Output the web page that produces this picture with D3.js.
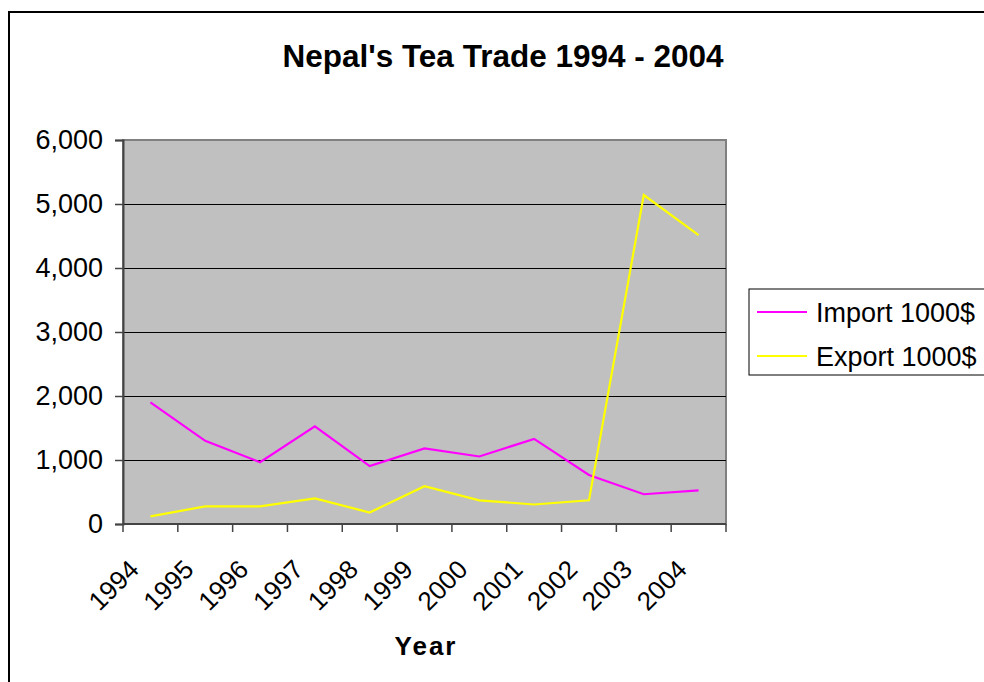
<!DOCTYPE html>
<html>
<head>
<meta charset="utf-8">
<script src="https://cdn.jsdelivr.net/npm/d3@7"></script>
<style>
  body { margin: 0; background: #fff; }
  svg { display: block; font-family: Arial, "Liberation Sans", sans-serif; }
</style>
</head>
<body>
<svg id="chart" width="984" height="682"></svg>
<script>
const years = ["1994", "1995", "1996", "1997", "1998", "1999", "2000", "2001", "2002", "2003", "2004"];
const importVals = [1900, 1300, 965, 1525, 905, 1180, 1055, 1330, 765, 465, 525];
const exportVals = [120, 275, 275, 400, 180, 590, 370, 305, 370, 5140, 4515];
const yTicks = [0, 1000, 2000, 3000, 4000, 5000, 6000];
const seriesNames = ["Import 1000$", "Export 1000$"];
const seriesColors = ["#ff00ff", "#ffff00"];

const svg = d3.select("#chart");

// outer chart frame (runs off the right/bottom of the picture)
svg.append("rect")
  .attr("x", 9).attr("y", 12)
  .attr("width", 1000).attr("height", 700)
  .attr("fill", "#fff")
  .attr("stroke", "#000")
  .attr("stroke-width", 2);

const plot = { left: 123, right: 726, top: 140, bottom: 524 };

const x = d3.scaleBand().domain(years).range([plot.left, plot.right]).padding(0);
const y = d3.scaleLinear().domain([0, 6000]).range([plot.bottom, plot.top]);

// plot area
svg.append("rect")
  .attr("x", plot.left).attr("y", plot.top)
  .attr("width", plot.right - plot.left).attr("height", plot.bottom - plot.top)
  .attr("fill", "#c0c0c0")
  .attr("stroke", "#808080")
  .attr("stroke-width", 2);

// gridlines
svg.append("g")
  .selectAll("line")
  .data(yTicks.filter(d => d > 0 && d < 6000))
  .join("line")
  .attr("x1", plot.left).attr("x2", plot.right)
  .attr("y1", d => y(d)).attr("y2", d => y(d))
  .attr("stroke", "#000")
  .attr("stroke-width", 1)
  .attr("shape-rendering", "crispEdges");

// y axis
const yAxis = svg.append("g")
  .attr("transform", `translate(${plot.left},0)`)
  .call(d3.axisLeft(y).tickValues(yTicks).tickFormat(d3.format(",")).tickSize(8).tickPadding(12));
yAxis.select(".domain").attr("stroke", "#444").attr("stroke-width", 2);
yAxis.selectAll(".tick line").attr("stroke", "#444").attr("stroke-width", 1.5);
yAxis.selectAll(".tick text")
  .attr("font-size", 27)
  .attr("font-family", "Arial, 'Liberation Sans', sans-serif")
  .attr("fill", "#000");

// x axis line + ticks at category boundaries
svg.append("line")
  .attr("x1", plot.left).attr("x2", plot.right)
  .attr("y1", plot.bottom).attr("y2", plot.bottom)
  .attr("stroke", "#444").attr("stroke-width", 2);

const bounds = years.map(d => x(d)).concat([x.range()[1]]);
svg.append("g")
  .selectAll("line")
  .data(bounds)
  .join("line")
  .attr("x1", d => d).attr("x2", d => d)
  .attr("y1", plot.bottom).attr("y2", plot.bottom + 8)
  .attr("stroke", "#444").attr("stroke-width", 1.5);

// rotated year labels
svg.append("g")
  .selectAll("text")
  .data(years)
  .join("text")
  .attr("transform", d => `translate(${x(d) + x.bandwidth() / 2 - 10},${plot.bottom + 47}) rotate(-45)`)
  .attr("text-anchor", "end")
  .attr("font-size", 26)
  .text(d => d);

// lines
const cx = d => x(d) + x.bandwidth() / 2;
const line = d3.line().x((d, i) => cx(years[i])).y(d => y(d));

[importVals, exportVals].forEach((vals, i) => {
  svg.append("path")
    .datum(vals)
    .attr("d", line)
    .attr("fill", "none")
    .attr("stroke", seriesColors[i])
    .attr("stroke-width", 2.2)
    .attr("stroke-linejoin", "miter");
});

// title
svg.append("text")
  .attr("x", 503).attr("y", 67)
  .attr("text-anchor", "middle")
  .attr("font-size", 31.5)
  .attr("font-weight", "bold")
  .text("Nepal's Tea Trade 1994 - 2004");

// axis title
svg.append("text")
  .attr("x", 426).attr("y", 655)
  .attr("text-anchor", "middle")
  .attr("font-size", 26)
  .attr("font-weight", "bold")
  .attr("letter-spacing", 2)
  .text("Year");

// legend
const legend = svg.append("g");
legend.append("rect")
  .attr("x", 749).attr("y", 289)
  .attr("width", 300).attr("height", 86)
  .attr("fill", "#fff")
  .attr("stroke", "#000")
  .attr("stroke-width", 1);

seriesNames.forEach((name, i) => {
  const ly = 312 + i * 44;
  legend.append("line")
    .attr("x1", 757).attr("x2", 807)
    .attr("y1", ly).attr("y2", ly)
    .attr("stroke", seriesColors[i])
    .attr("stroke-width", 2);
  legend.append("text")
    .attr("x", 816).attr("y", ly + 10)
    .attr("font-size", 27)
    .text(name);
});
</script>
</body>
</html>
